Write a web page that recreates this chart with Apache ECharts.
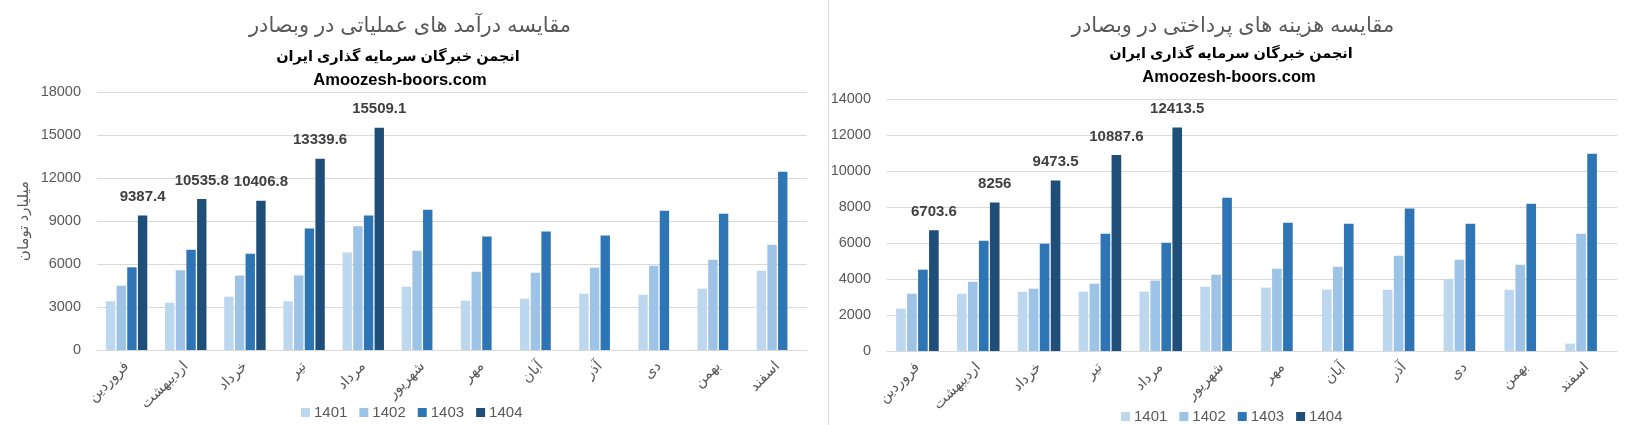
<!DOCTYPE html>
<html>
<head>
<meta charset="utf-8">
<script src="https://cdn.jsdelivr.net/npm/echarts@6/dist/echarts.min.js"></script>
<style>
html,body{margin:0;padding:0;background:#fff;}
#c{width:1627px;height:425px;}
</style>
</head>
<body>
<div id="c"></div>
<script>
var months = ['فروردین','اردیبهشت','خرداد','تیر','مرداد','شهریور','مهر','آبان','آذر','دی','بهمن','اسفند'];
var years = ['1401','1402','1403','1404'];

// Left chart: operating revenue
var rev1401 = [3400, 3300, 3720, 3400, 6810, 4420, 3440, 3580, 3930, 3860, 4280, 5530];
var rev1402 = [4490, 5560, 5190, 5200, 8630, 6930, 5460, 5390, 5740, 5880, 6300, 7350];
var rev1403 = [5770, 7000, 6720, 8470, 9380, 9790, 7910, 8260, 7980, 9720, 9510, 12440];
var rev1404 = [9387.4, 10535.8, 10406.8, 13339.6, 15509.1, null, null, null, null, null, null, null];

// Right chart: paid expenses
var exp1401 = [2350, 3180, 3290, 3300, 3300, 3570, 3520, 3410, 3400, 3980, 3400, 410];
var exp1402 = [3180, 3850, 3460, 3740, 3910, 4240, 4570, 4680, 5290, 5070, 4790, 6520];
var exp1403 = [4520, 6130, 5960, 6520, 6020, 8520, 7130, 7070, 7910, 7070, 8180, 10960];
var exp1404 = [6703.6, 8256, 9473.5, 10887.6, 12413.5, null, null, null, null, null, null, null];

var leftTitle = 'مقایسه درآمد های عملیاتی در وبصادر';
var rightTitle = 'مقایسه هزینه های پرداختی در وبصادر';
var subTitle = 'انجمن خبرگان سرمایه گذاری ایران';
var siteText = 'Amoozesh-boors.com';
var yName = 'میلیارد تومان';

var colors = ['#BDD7EE', '#9DC3E6', '#2E75B6', '#1F4E79'];
var FONT = '"Liberation Sans", Arial, "DejaVu Sans", sans-serif';

function mkSeries(name, data, idx, color, withLabel) {
  return {
    name: name, type: 'bar', data: data,
    xAxisIndex: idx, yAxisIndex: idx,
    barCategoryGap: '30%', barGap: '14%',
    itemStyle: {color: color},
    label: withLabel ? {
      show: true, position: 'top', distance: 11,
      fontFamily: FONT, fontWeight: 'bold', fontSize: 15, color: '#404040'
    } : {show: false},
    emphasis: {disabled: true},
    animation: false
  };
}

var chart = echarts.init(document.getElementById('c'), null, {renderer: 'canvas'});

var xAxisBase = function (idx) {
  return {
    type: 'category', data: months, gridIndex: idx,
    axisLine: {lineStyle: {color: '#d9d9d9', width: 1}},
    axisTick: {show: false},
    axisLabel: {rotate: 45, fontSize: 14.5, color: '#595959', fontFamily: FONT, margin: 14, interval: 0}
  };
};
var yAxisBase = function (idx, max, interval) {
  return {
    type: 'value', gridIndex: idx, min: 0, max: max, interval: interval,
    axisLine: {show: false}, axisTick: {show: false},
    splitLine: {lineStyle: {color: '#d9d9d9', width: 1}},
    axisLabel: {fontSize: 14.5, color: '#595959', fontFamily: FONT, margin: 16,
      formatter: function (v) { return String(v); }}
  };
};

var yLeft = yAxisBase(0, 18000, 3000);
yLeft.name = yName;
yLeft.nameLocation = 'middle';
yLeft.nameGap = 66;
yLeft.nameRotate = 90;
yLeft.nameTextStyle = {fontSize: 15, color: '#595959', fontFamily: FONT};

var legendBase = function (cx, y) {
  return {
    data: years, left: cx, top: y, orient: 'horizontal',
    icon: 'rect', itemWidth: 9, itemHeight: 9, itemGap: 12,
    textStyle: {fontSize: 15, color: '#595959', fontFamily: FONT, padding: [0, 0, 0, -1]},
    selectedMode: false
  };
};

var option = {
  animation: false,
  grid: [
    {left: 97, right: 820, top: 92, bottom: 75, containLabel: false},
    {left: 887, right: 10, top: 99, bottom: 74, containLabel: false}
  ],
  xAxis: [xAxisBase(0), xAxisBase(1)],
  yAxis: [yLeft, yAxisBase(1, 14000, 2000)],
  legend: [legendBase(296, 400), legendBase(1116, 404)],
  series: [
    mkSeries(years[0], rev1401, 0, colors[0], false),
    mkSeries(years[1], rev1402, 0, colors[1], false),
    mkSeries(years[2], rev1403, 0, colors[2], false),
    mkSeries(years[3], rev1404, 0, colors[3], true),
    mkSeries(years[0], exp1401, 1, colors[0], false),
    mkSeries(years[1], exp1402, 1, colors[1], false),
    mkSeries(years[2], exp1403, 1, colors[2], false),
    mkSeries(years[3], exp1404, 1, colors[3], true)
  ],
  graphic: [
    {type: 'line', shape: {x1: 828.5, y1: 0, x2: 828.5, y2: 425}, style: {stroke: '#d9d9d9', lineWidth: 1}, silent: true},
    {type: 'text', x: 410, y: 26, style: {text: leftTitle, align: 'center', verticalAlign: 'middle', fontSize: 21, fontFamily: FONT, fill: '#595959'}},
    {type: 'text', x: 398, y: 57, style: {text: subTitle, align: 'center', verticalAlign: 'middle', fontSize: 14.5, fontWeight: 'bold', fontFamily: FONT, fill: '#000'}},
    {type: 'text', x: 400, y: 80, style: {text: siteText, align: 'center', verticalAlign: 'middle', fontSize: 16.5, fontWeight: 'bold', fontFamily: FONT, fill: '#000'}},
    {type: 'text', x: 1233, y: 26, style: {text: rightTitle, align: 'center', verticalAlign: 'middle', fontSize: 21, fontFamily: FONT, fill: '#595959'}},
    {type: 'text', x: 1231, y: 54, style: {text: subTitle, align: 'center', verticalAlign: 'middle', fontSize: 14.5, fontWeight: 'bold', fontFamily: FONT, fill: '#000'}},
    {type: 'text', x: 1229, y: 77, style: {text: siteText, align: 'center', verticalAlign: 'middle', fontSize: 16.5, fontWeight: 'bold', fontFamily: FONT, fill: '#000'}}
  ]
};
chart.setOption(option);
</script>
</body>
</html>
